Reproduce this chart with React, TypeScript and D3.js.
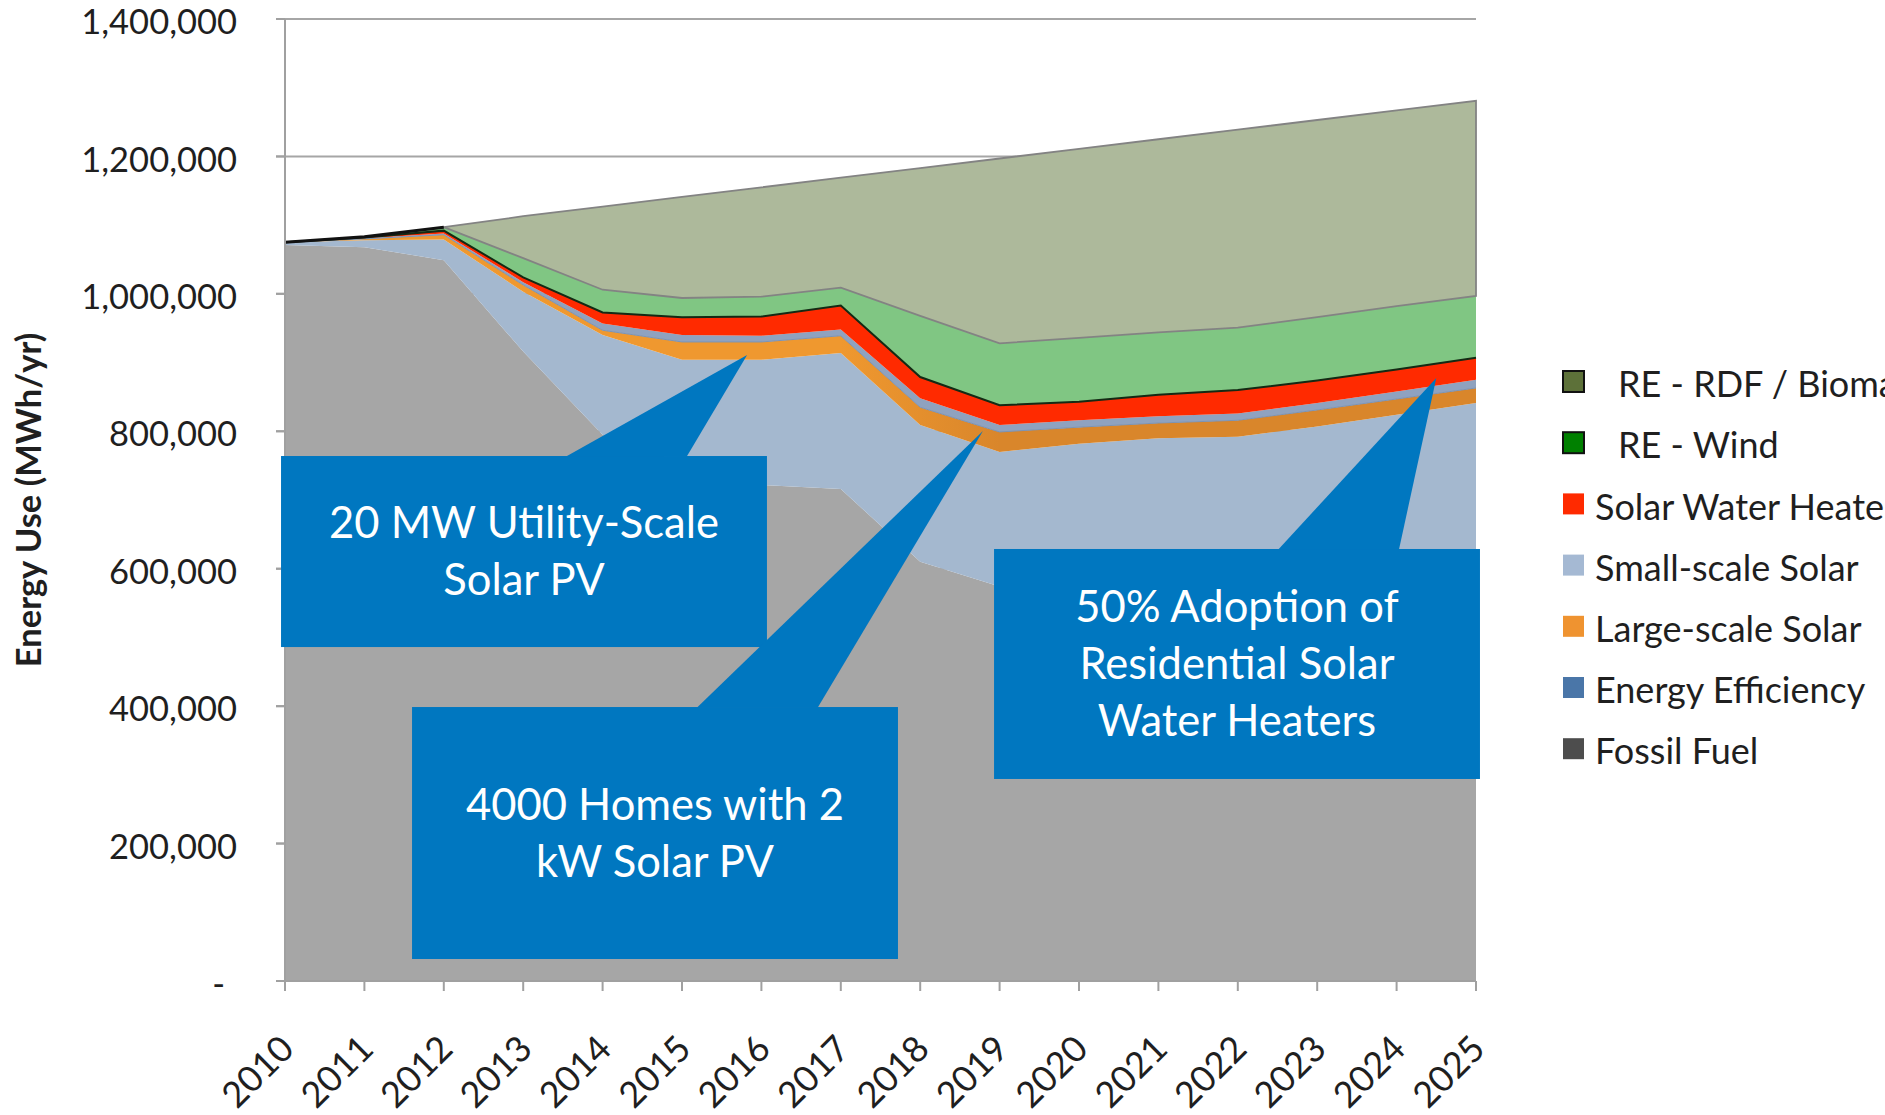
import React from 'react';
import * as d3 from 'd3';

const years = [2010, 2011, 2012, 2013, 2014, 2015, 2016, 2017, 2018, 2019, 2020, 2021, 2022, 2023, 2024, 2025];
const fossilFuel = [1071000, 1068000, 1049000, 916000, 795000, 755000, 722000, 716000, 610000, 574000, 560000, 548000, 535000, 520000, 505000, 490000];
const energyEfficiency = [4000, 10000, 30000, 87000, 145000, 149000, 182000, 198000, 199000, 196000, 222000, 242000, 257000, 287000, 319000, 351000];
const largeScaleSolar = [0, 2000, 7000, 10000, 7000, 26000, 26000, 25000, 26000, 29000, 24000, 22000, 24000, 24000, 23000, 22000];
const smallScaleSolar = [0, 1000, 2000, 4000, 10000, 10000, 9000, 9000, 13000, 10000, 10000, 10000, 10000, 10000, 11000, 12000];
const solarWaterHeaters = [0, 1000, 4000, 7000, 16000, 26000, 28000, 35000, 31000, 29000, 27000, 31000, 34000, 33000, 32000, 32000];
const reWind = [0, 1000, 5000, 28000, 33000, 28000, 29000, 26000, 89000, 90000, 93000, 91000, 91000, 92000, 92000, 90000];
const reRdfBiomass = [0, 0, 0, 61000, 121000, 147000, 159000, 160000, 215000, 269000, 275000, 281000, 288000, 287000, 285000, 284000];

const yTicks = [0, 200000, 400000, 600000, 800000, 1000000, 1200000, 1400000];

const seriesKeys = ['fossil', 'efficiency', 'large', 'small', 'swh', 'wind', 'rdf'];
const areaFills: Record<string, string> = {
  fossil: '#a6a6a6',
  efficiency: '#a4b8cf',
  large: 'url(#orangeGrad)',
  small: '#8fa2bf',
  swh: '#ff2a00',
  wind: '#80c683',
  rdf: '#adb99b',
};

const legendLabels = ['RE - RDF / Biomass', 'RE - Wind', 'Solar Water Heaters', 'Small-scale Solar', 'Large-scale Solar', 'Energy Efficiency', 'Fossil Fuel'];
const legendColors = ['#5d7139', '#008000', '#ff2a00', '#a5b9d3', '#ef9330', '#4a76a8', '#4d4d4d'];
const legendBordered = [true, true, false, false, false, false, false];

// callouts in data units: [year, value]
const calloutTexts = [
  ['20 MW Utility-Scale', 'Solar PV'],
  ['4000 Homes with 2', 'kW Solar PV'],
  ['50% Adoption of', 'Residential Solar', 'Water Heaters'],
];
const calloutBoxes = [
  { x0: 2009.95, x1: 2016.07, v0: 764000, v1: 486000 },
  { x0: 2011.6, x1: 2017.72, v0: 398700, v1: 32000 },
  { x0: 2018.93, x1: 2025.05, v0: 628700, v1: 294000 },
];
const calloutPointers = [
  { b0: 2013.54, b1: 2015.06, tx: 2015.82, tv: 911000 },
  { b0: 2015.19, b1: 2016.71, tx: 2018.79, tv: 800400 },
  { b0: 2022.51, b1: 2024.03, tx: 2024.5, tv: 877500 },
];

const FONT = "Lato, 'Open Sans', sans-serif";

export default function App() {
  const W = 1885;
  const H = 1115;
  const x = d3.scaleLinear().domain([2010, 2025]).range([285, 1476]);
  const y = d3.scaleLinear().domain([0, 1400000]).range([981, 19]);

  const table = years.map((yr, i) => ({
    year: yr,
    fossil: fossilFuel[i],
    efficiency: energyEfficiency[i],
    large: largeScaleSolar[i],
    small: smallScaleSolar[i],
    swh: solarWaterHeaters[i],
    wind: reWind[i],
    rdf: reRdfBiomass[i],
  }));
  const stacked = d3.stack<any>().keys(seriesKeys)(table);
  const area = d3
    .area<any>()
    .x((d) => x(d.data.year))
    .y0((d) => y(d[0]))
    .y1((d) => y(d[1]));
  const lineLow = d3
    .line<any>()
    .x((d) => x(d.data.year))
    .y((d) => y(d[0]));
  const lineHigh = d3
    .line<any>()
    .x((d) => x(d.data.year))
    .y((d) => y(d[1]));

  const windLayer = stacked[5];
  const rdfLayer = stacked[6];
  const smallLayer = stacked[3];

  const plotLeft = x(2010);
  const plotRight = x(2025);

  return (
    <svg
      width={W}
      height={H}
      style={{ position: 'absolute', left: 0, top: 0, display: 'block', background: '#ffffff' }}
      fontFamily={FONT}
    >
      <defs>
        <linearGradient id="orangeGrad" gradientUnits="userSpaceOnUse" x1={x(2017)} y1={0} x2={x(2019)} y2={0}>
          <stop offset="0" stopColor="#ef982f" />
          <stop offset="1" stopColor="#d9862b" />
        </linearGradient>
      </defs>
      <rect x={0} y={0} width={W} height={H} fill="#ffffff" />

      {/* gridlines */}
      {yTicks.filter((t) => t > 0).map((t) => (
        <line key={'g' + t} x1={plotLeft - 9} x2={plotRight} y1={y(t)} y2={y(t)} stroke="#a6a6a6" strokeWidth={2} />
      ))}

      {/* stacked areas */}
      {stacked.map((layer) => (
        <path key={layer.key} d={area(layer) || ''} fill={areaFills[layer.key]} stroke="none" />
      ))}

      {/* outlines */}
      <path d={lineLow(smallLayer) || ''} fill="none" stroke="#7d93b3" strokeWidth={1} />
      <path d={lineLow(windLayer) || ''} fill="none" stroke="#142a14" strokeWidth={2} />
      <path d={area(rdfLayer.slice(2)) || ''} fill="none" stroke="#838383" strokeWidth={1.8} />
      <path d={lineHigh(rdfLayer.slice(0, 3)) || ''} fill="none" stroke="#111111" strokeWidth={3} />

      {/* axes */}
      <line x1={plotLeft} x2={plotLeft} y1={y(1400000)} y2={y(0)} stroke="#a0a0a0" strokeWidth={2} />
      <line x1={plotLeft} x2={plotRight} y1={y(0)} y2={y(0)} stroke="#a0a0a0" strokeWidth={2} />
      {yTicks.map((t) => (
        <line key={'yt' + t} x1={plotLeft - 9} x2={plotLeft} y1={y(t)} y2={y(t)} stroke="#a0a0a0" strokeWidth={2} />
      ))}
      {years.map((yr) => (
        <line key={'xt' + yr} x1={x(yr)} x2={x(yr)} y1={y(0)} y2={y(0) + 10} stroke="#a0a0a0" strokeWidth={2} />
      ))}

      {/* y tick labels */}
      {yTicks.map((t) => (
        <text
          key={'yl' + t}
          x={t === 0 ? 225 : 237}
          y={y(t) + 3}
          dy="0.35em"
          textAnchor="end"
          fontSize={34.5}
          fill="#1f1f1f"
        >
          {t === 0 ? '-' : d3.format(',')(t)}
        </text>
      ))}

      {/* x tick labels */}
      {years.map((yr) => (
        <text
          key={'xl' + yr}
          transform={`translate(${x(yr) + 11},${1051}) rotate(-45)`}
          textAnchor="end"
          fontSize={36}
          fill="#1f1f1f"
        >
          {yr}
        </text>
      ))}

      {/* y axis title */}
      <text
        transform={`translate(41,500) rotate(-90)`}
        textAnchor="middle"
        fontSize={34.5}
        fontWeight="bold"
        fill="#1f1f1f"
      >
        Energy Use (MWh/yr)
      </text>

      {/* legend */}
      {legendLabels.map((lab, i) => {
        const cy = 381.5 + i * 61.2;
        return (
          <g key={'lg' + i}>
            <rect
              x={1563}
              y={cy - 10.5}
              width={21}
              height={21}
              fill={legendColors[i]}
              stroke={legendBordered[i] ? '#111111' : 'none'}
              strokeWidth={legendBordered[i] ? 2 : 0}
            />
            <text x={legendBordered[i] ? 1618 : 1595} y={cy + 3} dy="0.35em" fontSize={36} fill="#1f1f1f">
              {lab}
            </text>
          </g>
        );
      })}

      {/* callouts */}
      {calloutBoxes.map((b, i) => {
        const p = calloutPointers[i];
        const top = y(b.v0);
        const bottom = y(b.v1);
        const cx = (x(b.x0) + x(b.x1)) / 2;
        const cy = (top + bottom) / 2;
        const lines = calloutTexts[i];
        const lh = 57;
        return (
          <g key={'co' + i}>
            <rect x={x(b.x0)} y={top} width={x(b.x1) - x(b.x0)} height={bottom - top} fill="#0077c0" />
            <polygon
              points={`${x(p.b0)},${top + 0.5} ${x(p.tx)},${y(p.tv)} ${x(p.b1)},${top + 0.5}`}
              fill="#0077c0"
            />
            {lines.map((ln, j) => (
              <text
                key={j}
                x={cx}
                y={cy + (j - (lines.length - 1) / 2) * lh + 15}
                textAnchor="middle"
                fontSize={43.5}
                fill="#ffffff"
              >
                {ln}
              </text>
            ))}
          </g>
        );
      })}
    </svg>
  );
}
